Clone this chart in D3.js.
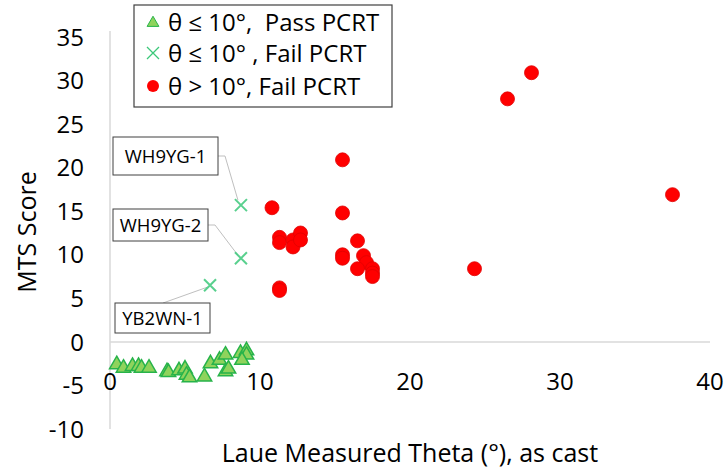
<!DOCTYPE html>
<html><head><meta charset="utf-8">
<script src="https://cdn.jsdelivr.net/npm/d3@7"></script>
<style>
body{margin:0;background:#fff;}
text{font-family:"Open Sans","Noto Sans",sans-serif;fill:#000;}
</style></head>
<body><svg id="c" width="727" height="470"></svg>
<script>
// Data
const xTicks = [0, 10, 20, 30, 40];
const yTicks = [-10, -5, 0, 5, 10, 15, 20, 25, 30, 35];
const passX = [0.45,0.9,1.5,1.9,2.1,2.6,3.8,3.9,4.6,5.0,5.1,5.3,6.3,6.7,7.3,7.7,7.7,7.9,8.7,9.1,9.1,8.8];
const passY = [-2.6,-3.0,-2.8,-2.8,-3.0,-3.0,-3.4,-3.5,-3.3,-3.1,-3.8,-4.1,-4.0,-2.5,-2.1,-1.5,-3.4,-3.1,-1.3,-1.0,-1.5,-2.1];
const failLowX = [8.73, 8.73, 6.67];
const failLowY = [15.7, 9.6, 6.5];
const failLowNames = ["WH9YG-1", "WH9YG-2", "YB2WN-1"];
const failHighX = [15.5,10.8,15.5,11.3,11.3,12.2,12.2,12.7,12.7,16.5,15.5,15.5,16.9,17.1,16.5,17.5,17.5,17.5,11.3,11.3,28.1,26.5,37.5,24.3];
const failHighY = [20.9,15.4,14.8,12.0,11.4,11.7,10.9,12.5,11.7,11.6,10.0,9.6,9.9,9.1,8.4,8.4,7.9,7.5,6.2,5.9,30.9,27.9,16.9,8.4];
const legendLabels = ["θ ≤ 10°,  Pass PCRT", "θ ≤ 10° , Fail PCRT", "θ > 10°, Fail PCRT"];
const xTitle = "Laue Measured Theta (°), as cast";
const yTitle = "MTS Score";

const svg = d3.select("#c");
const x = d3.scaleLinear().domain([0, 40]).range([110, 710]);
const y = d3.scaleLinear().domain([-10, 35]).range([429, 37]);

// axis lines
svg.append("line").attr("x1", x(0)).attr("x2", x(0)).attr("y1", y(35)-6).attr("y2", y(-10))
  .attr("stroke", "#d9d9d9").attr("stroke-width", 1.5);
svg.append("line").attr("x1", x(0)).attr("x2", x(40)).attr("y1", y(0)).attr("y2", y(0))
  .attr("stroke", "#d9d9d9").attr("stroke-width", 1.5);

// y tick labels
svg.selectAll(".yt").data(yTicks).enter().append("text")
  .attr("x", 84).attr("y", d => y(d)).attr("dy", "0.36em")
  .attr("text-anchor", "end").attr("font-size", 24).text(d => d);
// x tick labels
svg.selectAll(".xt").data(xTicks).enter().append("text")
  .attr("x", d => x(d)).attr("y", y(0) + 48)
  .attr("text-anchor", "middle").attr("font-size", 24).text(d => d);

// titles
svg.append("text").attr("x", 410).attr("y", 462).attr("text-anchor", "middle")
  .attr("font-size", 25).text(xTitle);
svg.append("text").attr("transform", `translate(36,${232}) rotate(-90)`)
  .attr("text-anchor", "middle").attr("font-size", 25).text(yTitle);

// marker helpers
const tri = d3.symbol().type(d3.symbolTriangle).size(90);

// pass triangles
svg.selectAll(".pt").data(passX.map((d, i) => [d, passY[i]])).enter().append("path")
  .attr("d", tri).attr("transform", d => `translate(${x(d[0])},${y(d[1])})`)
  .attr("fill", "#8fd35c").attr("stroke", "#27b34a").attr("stroke-width", 1.5);

// red circles
svg.selectAll(".rc").data(failHighX.map((d, i) => [d, failHighY[i]])).enter().append("circle")
  .attr("cx", d => x(d[0])).attr("cy", d => y(d[1])).attr("r", 7)
  .attr("fill", "#ff0000").attr("stroke", "#e00000").attr("stroke-width", 0.8);

// annotation callouts
const boxes = [
  {x: 113, y: 137, w: 105, h: 38, path: (px, py) => `M218,156 L225,156 L${px-3},${py-5}`},
  {x: 113, y: 209, w: 95, h: 32, path: (px, py) => `M208,225 L215,225 L${px-3},${py-3}`},
  {x: 115, y: 303, w: 95, h: 30, path: (px, py) => `M163,303 L${px-3},${py+2}`}
];
failLowX.forEach((d, i) => {
  const px = x(d), py = y(failLowY[i]);
  const b = boxes[i];
  svg.append("path").attr("d", b.path(px, py)).attr("fill", "none")
    .attr("stroke", "#bfbfbf").attr("stroke-width", 1);
  svg.append("rect").attr("x", b.x).attr("y", b.y).attr("width", b.w).attr("height", b.h)
    .attr("fill", "#fff").attr("stroke", "#404040").attr("stroke-width", 1);
  svg.append("text").attr("x", b.x + b.w / 2).attr("y", b.y + b.h / 2).attr("dy", "0.36em")
    .attr("text-anchor", "middle").attr("font-size", 18.5).text(failLowNames[i]);
});

// green x markers
svg.selectAll(".gx").data(failLowX.map((d, i) => [d, failLowY[i]])).enter().append("path")
  .attr("d", "M-6,-6L6,6M-6,6L6,-6")
  .attr("transform", d => `translate(${x(d[0])},${y(d[1])})`)
  .attr("stroke", "#3cc87a").attr("stroke-width", 2).attr("fill", "none").attr("opacity", 0.85);

// legend
const lg = svg.append("g");
lg.append("rect").attr("x", 134).attr("y", 5).attr("width", 258).attr("height", 102)
  .attr("fill", "#fff").attr("stroke", "#404040").attr("stroke-width", 1.2);
const rowsY = [22, 53, 86];
lg.append("path").attr("d", d3.symbol().type(d3.symbolTriangle).size(60))
  .attr("transform", `translate(153,${rowsY[0]+1})`).attr("fill", "#8fd35c").attr("stroke", "#27b34a").attr("stroke-width", 1);
lg.append("path").attr("d", "M-6,-6L6,6M-6,6L6,-6").attr("transform", `translate(153,${rowsY[1]})`)
  .attr("stroke", "#3cc87a").attr("stroke-width", 1.3).attr("fill", "none");
lg.append("circle").attr("cx", 153).attr("cy", rowsY[2]).attr("r", 6).attr("fill", "#ff0000");
legendLabels.forEach((t, i) => {
  lg.append("text").attr("x", 168).attr("y", rowsY[i]).attr("dy", "0.36em")
    .attr("font-size", 24).attr("xml:space", "preserve").style("white-space", "pre").text(t);
});
</script></body></html>
